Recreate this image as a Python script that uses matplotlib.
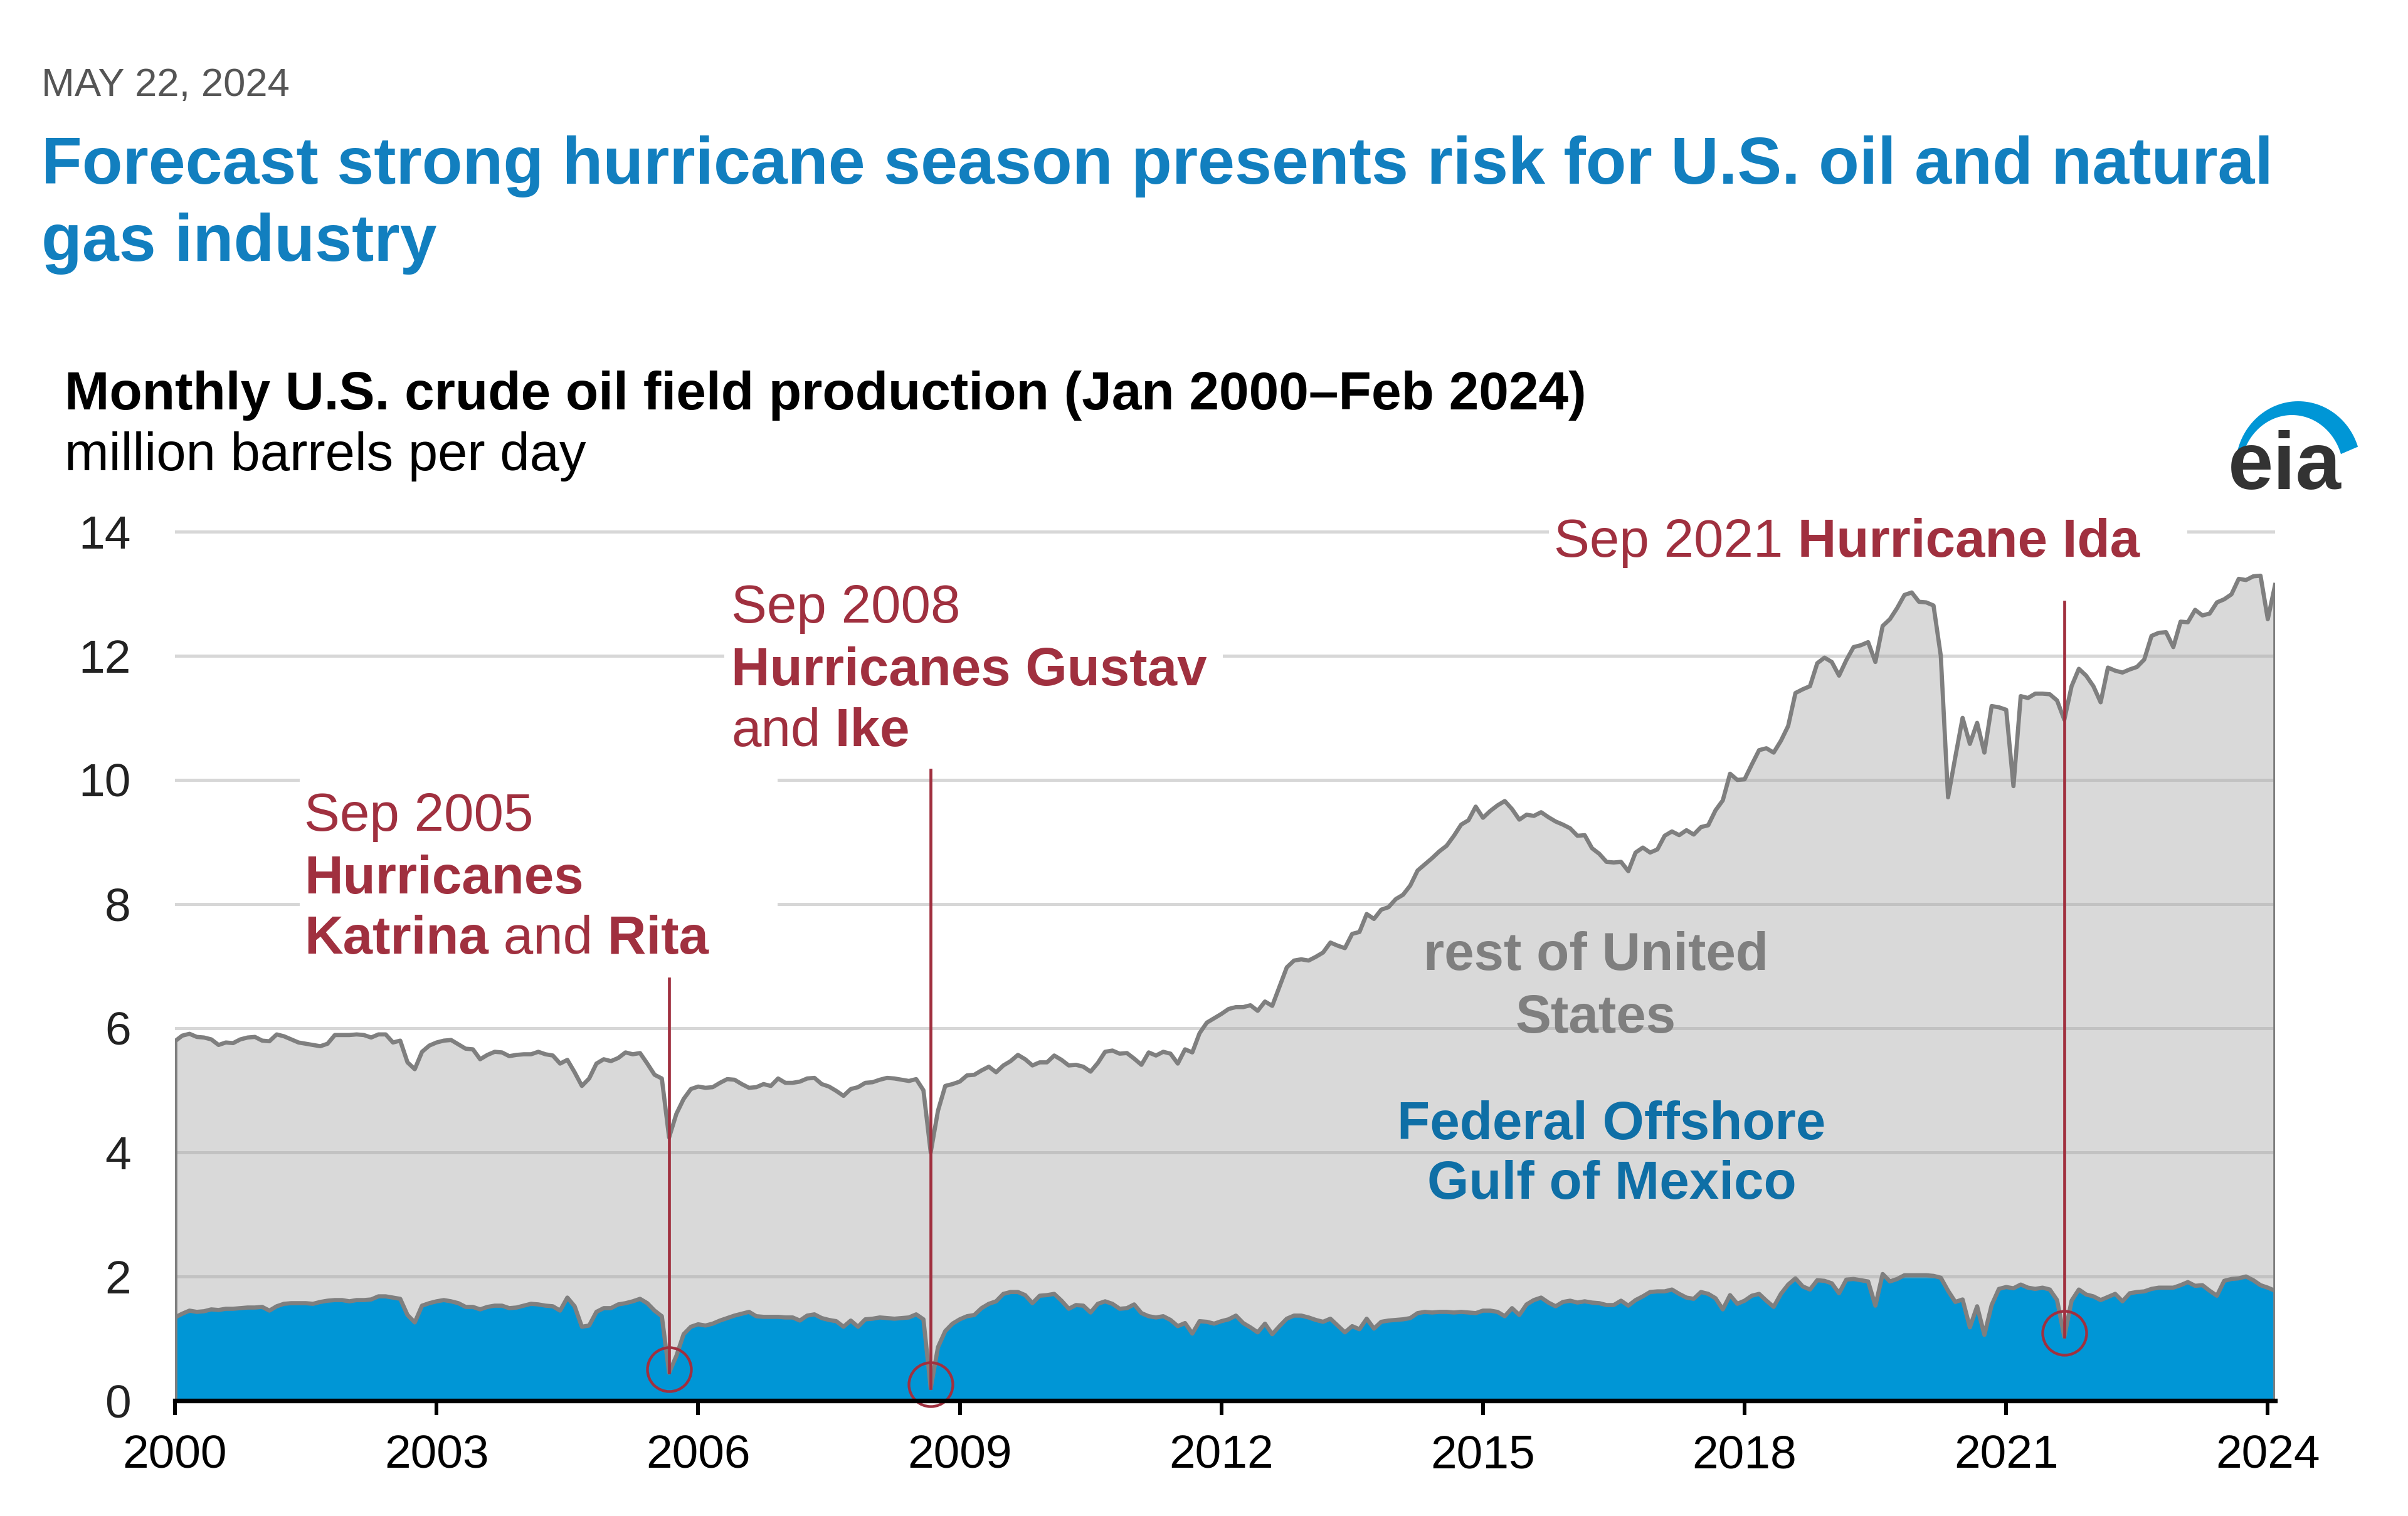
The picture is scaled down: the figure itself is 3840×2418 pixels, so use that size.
import numpy as np
import matplotlib
matplotlib.use("Agg")
import matplotlib.pyplot as plt
from matplotlib.patches import Rectangle, Polygon

plt.rcParams['font.family'] = ['Liberation Sans', 'DejaVu Sans']

# monthly U.S. crude oil field production, million b/d, Jan 2000 - Feb 2024
total = [
    5.79, 5.88, 5.91, 5.86, 5.85, 5.82, 5.73, 5.77, 5.76, 5.82, 5.85, 5.86,  # 2000
    5.80, 5.79, 5.90, 5.87, 5.82, 5.77, 5.75, 5.73, 5.71, 5.75, 5.89, 5.89,  # 2001
    5.89, 5.90, 5.89, 5.85, 5.90, 5.90, 5.77, 5.80, 5.45, 5.34, 5.62, 5.72,  # 2002
    5.77, 5.80, 5.81, 5.74, 5.67, 5.66, 5.50, 5.57, 5.62, 5.61, 5.55, 5.57,  # 2003
    5.58, 5.58, 5.62, 5.58, 5.56, 5.43, 5.49, 5.29, 5.07, 5.19, 5.43, 5.50,  # 2004
    5.47, 5.52, 5.61, 5.58, 5.60, 5.43, 5.25, 5.19, 4.24, 4.62, 4.86, 5.02,  # 2005
    5.06, 5.04, 5.05, 5.12, 5.18, 5.17, 5.10, 5.04, 5.05, 5.10, 5.07, 5.19,  # 2006
    5.12, 5.12, 5.14, 5.19, 5.20, 5.10, 5.06, 4.99, 4.91, 5.02, 5.05, 5.12,  # 2007
    5.13, 5.17, 5.20, 5.19, 5.17, 5.15, 5.18, 5.00, 4.00, 4.67, 5.07, 5.10,  # 2008
    5.14, 5.24, 5.25, 5.32, 5.38, 5.29, 5.40, 5.47, 5.57, 5.50, 5.40, 5.45,  # 2009
    5.45, 5.56, 5.49, 5.40, 5.41, 5.38, 5.30, 5.44, 5.62, 5.64, 5.59, 5.60,  # 2010
    5.51, 5.41, 5.61, 5.56, 5.62, 5.59, 5.43, 5.66, 5.61, 5.92, 6.09, 6.16,  # 2011
    6.23, 6.31, 6.34, 6.34, 6.37, 6.28, 6.43, 6.36, 6.67, 6.98, 7.09, 7.11,  # 2012
    7.09, 7.15, 7.22, 7.38, 7.33, 7.29, 7.52, 7.55, 7.84, 7.76, 7.91, 7.95,  # 2013
    8.08, 8.15, 8.30, 8.54, 8.64, 8.74, 8.85, 8.94, 9.10, 9.28, 9.35, 9.57,  # 2014
    9.39, 9.50, 9.59, 9.66, 9.53, 9.36, 9.44, 9.42, 9.48, 9.40, 9.33, 9.28,  # 2015
    9.22, 9.10, 9.11, 8.90, 8.81, 8.68, 8.67, 8.68, 8.53, 8.83, 8.91, 8.83,  # 2016
    8.88, 9.10, 9.17, 9.11, 9.19, 9.12, 9.24, 9.27, 9.51, 9.67, 10.10, 10.00,  # 2017
    10.01, 10.25, 10.48, 10.51, 10.44, 10.63, 10.87, 11.40, 11.46, 11.51, 11.88, 11.97,  # 2018
    11.90, 11.68, 11.93, 12.14, 12.17, 12.22, 11.90, 12.48, 12.59, 12.77, 12.98, 13.02,  # 2019
    12.87, 12.86, 12.81, 12.00, 9.72, 10.37, 11.00, 10.58, 10.92, 10.44, 11.19, 11.17,  # 2020
    11.13, 9.90, 11.35, 11.32, 11.39, 11.39, 11.38, 11.28, 10.97, 11.51, 11.79, 11.68,  # 2021
    11.51, 11.25, 11.81, 11.76, 11.73, 11.78, 11.82, 11.94, 12.32, 12.37, 12.38, 12.14,  # 2022
    12.55, 12.54, 12.74, 12.65, 12.68, 12.86, 12.91, 12.99, 13.24, 13.22, 13.28, 13.29,  # 2023
    12.59, 13.14,  # 2024
]

# Federal Offshore Gulf of Mexico part
gom = [
    1.34, 1.40, 1.45, 1.43, 1.44, 1.47, 1.46, 1.48, 1.48, 1.49, 1.50, 1.50,
    1.51, 1.45, 1.52, 1.56, 1.57, 1.57, 1.57, 1.56, 1.59, 1.61, 1.62, 1.62,
    1.60, 1.62, 1.62, 1.63, 1.68, 1.68, 1.66, 1.64, 1.38, 1.26, 1.53, 1.57,
    1.60, 1.62, 1.60, 1.57, 1.51, 1.51, 1.47, 1.51, 1.53, 1.53, 1.49, 1.50,
    1.53, 1.56, 1.55, 1.53, 1.52, 1.45, 1.66, 1.52, 1.19, 1.21, 1.43, 1.49,
    1.49, 1.55, 1.57, 1.60, 1.64, 1.57, 1.45, 1.36, 0.45, 0.72, 1.07, 1.19,
    1.23, 1.21, 1.24, 1.29, 1.33, 1.37, 1.40, 1.43, 1.36, 1.35, 1.35, 1.35,
    1.34, 1.34, 1.29, 1.37, 1.39, 1.33, 1.30, 1.28, 1.19, 1.29, 1.19, 1.31,
    1.32, 1.34, 1.33, 1.32, 1.33, 1.34, 1.39, 1.31, 0.20, 0.86, 1.12, 1.24,
    1.31, 1.36, 1.38, 1.49, 1.56, 1.60, 1.72, 1.75, 1.75, 1.70, 1.57, 1.69,
    1.70, 1.72, 1.61, 1.48, 1.54, 1.53, 1.42, 1.56, 1.60, 1.56, 1.48, 1.49,
    1.55, 1.41, 1.36, 1.34, 1.36, 1.30, 1.20, 1.25, 1.08, 1.28, 1.27, 1.24,
    1.28, 1.31, 1.37, 1.25, 1.18, 1.10, 1.24, 1.07, 1.20, 1.32, 1.37, 1.37,
    1.34, 1.30, 1.27, 1.32, 1.21, 1.10, 1.20, 1.15, 1.32, 1.16, 1.27, 1.29,
    1.30, 1.31, 1.33, 1.41, 1.43, 1.42, 1.43, 1.43, 1.42, 1.43, 1.42, 1.41,
    1.45, 1.45, 1.43, 1.36, 1.49, 1.38, 1.55, 1.62, 1.66, 1.58, 1.52, 1.59,
    1.61, 1.58, 1.60, 1.58, 1.57, 1.54, 1.54, 1.61, 1.53, 1.62, 1.68, 1.75,
    1.76, 1.76, 1.79, 1.72, 1.66, 1.64, 1.75, 1.72, 1.65, 1.47, 1.70, 1.56,
    1.61, 1.69, 1.72, 1.61, 1.51, 1.72, 1.87, 1.97, 1.84, 1.79, 1.94, 1.93,
    1.89, 1.73, 1.95, 1.96, 1.94, 1.92, 1.53, 2.04, 1.92, 1.96, 2.02, 2.02,
    2.02, 2.02, 2.01, 1.98, 1.77, 1.59, 1.63, 1.18, 1.52, 1.06, 1.54, 1.80,
    1.83, 1.81, 1.87, 1.82, 1.80, 1.82, 1.79, 1.62, 1.03, 1.61, 1.79, 1.71,
    1.68, 1.62, 1.67, 1.72, 1.60, 1.73, 1.75, 1.76, 1.80, 1.82, 1.82, 1.82,
    1.86, 1.91, 1.85, 1.86, 1.77, 1.69, 1.93, 1.96, 1.97, 2.00, 1.94, 1.86,
    1.82, 1.77,
]

start_year = 2000
year_ticks = [2000, 2003, 2006, 2009, 2012, 2015, 2018, 2021, 2024]
y_ticks = [0, 2, 4, 6, 8, 10, 12, 14]

# hurricane events: (month index from Jan 2000, top of leader line)
events = [(68, 6.8), (104, 10.16), (260, 12.87)]

W, H = 3840, 2418
RED = '#a0303f'
BLUE_FILL = '#0096d6'
GRAY_FILL = '#d9d9d9'
GRAY_LINE = '#7f7f7f'
FS = 25.6


def fx(px):
    return px / W


def fy(py):
    return 1 - py / H


fig = plt.figure(figsize=(W / 240, H / 240), dpi=240)
ax = fig.add_axes([fx(279), fy(2234), fx(3628) - fx(279), fy(843) - fy(2234)])

x = start_year + np.arange(len(total)) / 12
total = np.array(total)
gom = np.array(gom)

ax.fill_between(x, 0, gom, facecolor=BLUE_FILL, lw=0, zorder=1)
ax.fill_between(x, gom, total, facecolor=GRAY_FILL, lw=0, zorder=1)
ax.plot(x, total, color=GRAY_LINE, lw=2.0, zorder=2)
ax.plot(x, gom, color=GRAY_LINE, lw=2.0, zorder=2)
ax.vlines([x[0], x[-1]], 0, [total[0], total[-1]], color=GRAY_LINE, lw=2.0, zorder=2)

ax.set_xlim(x[0], x[-1])
ax.set_ylim(0, 14.05)
ax.set_axisbelow('line')
ax.yaxis.grid(True, color='#a8a8a8', alpha=0.45, lw=1.5)
ax.set_yticks(y_ticks)
ax.set_xticks(year_ticks)
ax.tick_params(axis='y', length=0, pad=21, labelsize=22.5, labelcolor='#222222')
ax.tick_params(axis='x', length=7, width=1.8, pad=9, labelsize=22.5, color='black')
for side in ['top', 'right', 'left']:
    ax.spines[side].set_visible(False)
ax.spines['bottom'].set_linewidth(2.2)
ax.spines['bottom'].set_zorder(5)

# white boxes behind annotation texts (hide gridlines)
for bx0, by0, bx1, by1 in [(478, 1225, 1240, 1548), (1155, 915, 1950, 1215), (2470, 825, 3488, 900)]:
    fig.patches.append(Rectangle((fx(bx0), fy(by1)), fx(bx1) - fx(bx0), fy(by0) - fy(by1),
                                 transform=fig.transFigure, facecolor='white', edgecolor='none', zorder=1.7))

# leader lines and circles
for i, top in events:
    ax.plot([x[i], x[i]], [gom[i], top], color=RED, lw=1.4, zorder=3, clip_on=False)
    ax.plot(x[i], gom[i] + 0.06, marker='o', ms=21, mfc='none', mec=RED, mew=1.3, zorder=4, clip_on=False)

renderer = fig.canvas.get_renderer()


def rich(xpx, ypx, parts, color=RED, size=FS):
    xcur = xpx
    for s, w in parts:
        t = fig.text(fx(xcur), fy(ypx), s, fontsize=size, fontweight=w, color=color, va='baseline', zorder=6)
        xcur = t.get_window_extent(renderer).x1


rich(485, 1325, [('Sep 2005', 'normal')])
rich(485, 1425, [('Hurricanes', 'bold')])
rich(485, 1521, [('Katrina', 'bold'), (' and', 'normal'), (' Rita', 'bold')])
rich(1166, 993, [('Sep 2008', 'normal')])
rich(1166, 1093, [('Hurricanes Gustav', 'bold')])
rich(1166, 1190, [('and', 'normal'), (' Ike', 'bold')])
rich(2478, 888, [('Sep 2021', 'normal'), (' Hurricane Ida', 'bold')])

# area labels
fig.text(fx(2545), fy(1547), 'rest of United', ha='center', va='baseline', fontsize=FS, fontweight='bold', color=GRAY_LINE)
fig.text(fx(2545), fy(1647), 'States', ha='center', va='baseline', fontsize=FS, fontweight='bold', color=GRAY_LINE)
fig.text(fx(2570), fy(1817), 'Federal Offshore', ha='center', va='baseline', fontsize=FS, fontweight='bold', color='#0f6fa6')
fig.text(fx(2570), fy(1912), 'Gulf of Mexico', ha='center', va='baseline', fontsize=FS, fontweight='bold', color='#0f6fa6')

# headings
fig.text(fx(66), fy(153), 'MAY 22, 2024', fontsize=19, color='#555555', va='baseline')
fig.text(fx(66), fy(293), 'Forecast strong hurricane season presents risk for U.S. oil and natural',
         fontsize=31.8, fontweight='bold', color='#127fbf', va='baseline')
fig.text(fx(66), fy(416), 'gas industry', fontsize=31.8, fontweight='bold', color='#127fbf', va='baseline')
fig.text(fx(103), fy(653), 'Monthly U.S. crude oil field production (Jan 2000\u2013Feb 2024)',
         fontsize=25.7, fontweight='bold', color='black', va='baseline')
fig.text(fx(103), fy(750), 'million barrels per day', fontsize=25.5, color='black', va='baseline')

# eia logo
fig.text(fx(3553), fy(780), 'eia', fontsize=39, fontweight='bold', color='#333333', va='baseline')
th = np.linspace(np.radians(165), np.radians(18), 60)
outer = [(fx(3665 + 100 * np.cos(t)), fy(745 - 105 * np.sin(t))) for t in th]
inner = [(fx(3655 + 82 * np.cos(t)), fy(752 - 90 * np.sin(t))) for t in th[::-1]]
fig.patches.append(Polygon(outer + inner, closed=True, transform=fig.transFigure,
                           facecolor=BLUE_FILL, edgecolor='none'))

fig.savefig('out.png', dpi=240, facecolor='white')
